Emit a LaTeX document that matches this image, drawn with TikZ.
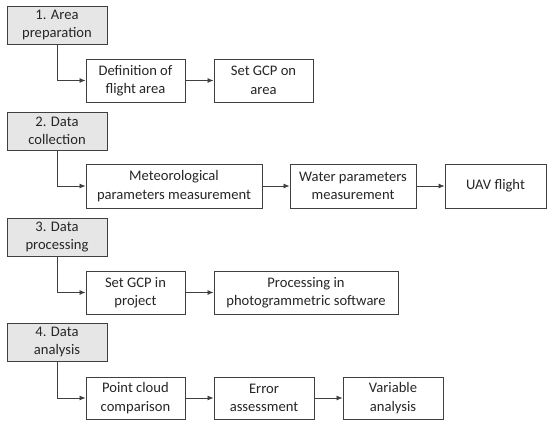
\documentclass[tikz,border=0pt]{standalone}
\usepackage{fontspec}
\setmainfont{Carlito}
\usetikzlibrary{arrows.meta,positioning}
\definecolor{edge}{HTML}{404040}
\definecolor{hdrfill}{HTML}{E6E6E6}
\definecolor{txt}{HTML}{262626}
\tikzset{
  box/.style={draw=edge, line width=0.9pt, fill=white, align=center, inner sep=0pt, text=txt,
    font=\fontsize{14.6}{18.5}\selectfont},
  hdr/.style={box, fill=hdrfill},
  conn/.style={draw=edge, line width=0.8pt, -{Latex[length=6pt,width=5pt]}}
}
\newcommand{\bx}[7]{% name, style, x1, y1, x2, y2, text
  \node[#2, minimum width=#5pt-#3pt, minimum height=#6pt-#4pt] (#1) at ({(#3+#5)/2},{(#4+#6)/2}) {#7};}
\begin{document}
\begin{tikzpicture}[x=1pt,y=-1pt]
\useasboundingbox (0,0) rectangle (550,429);
% row 1
\bx{h1}{hdr}{7}{6}{107}{44}{1. Area\\preparation}
\bx{a1}{box}{86}{59}{185}{102}{Definition of\\flight area}
\bx{a2}{box}{214}{59}{313}{102}{Set GCP on\\area}
% row 2
\bx{h2}{hdr}{7}{112}{107}{150}{2. Data\\collection}
\bx{b1}{box}{86}{164}{262}{208}{Meteorological\\parameters measurement}
\bx{b2}{box}{290}{164}{416}{208}{Water parameters\\measurement}
\bx{b3}{box}{445}{164}{546}{208}{UAV flight}
% row 3
\bx{h3}{hdr}{7}{218}{107}{256}{3. Data\\processing}
\bx{c1}{box}{86}{271}{185}{314}{Set GCP in\\project}
\bx{c2}{box}{214}{271}{398}{314}{Processing in\\photogrammetric software}
% row 4
\bx{h4}{hdr}{7}{323}{107}{361}{4. Data\\analysis}
\bx{d1}{box}{86}{377}{185}{419}{Point cloud\\comparison}
\bx{d2}{box}{214}{377}{314}{419}{Error\\assessment}
\bx{d3}{box}{343}{377}{443}{419}{Variable\\analysis}
% connectors
\draw[conn] (h1.south) |- (a1.west);
\draw[conn] (a1) -- (a2);
\draw[conn] (h2.south) |- (b1.west);
\draw[conn] (b1) -- (b2);
\draw[conn] (b2) -- (b3);
\draw[conn] (h3.south) |- (c1.west);
\draw[conn] (c1) -- (c2);
\draw[conn] (h4.south) |- (d1.west);
\draw[conn] (d1) -- (d2);
\draw[conn] (d2) -- (d3);
\end{tikzpicture}
\end{document}
